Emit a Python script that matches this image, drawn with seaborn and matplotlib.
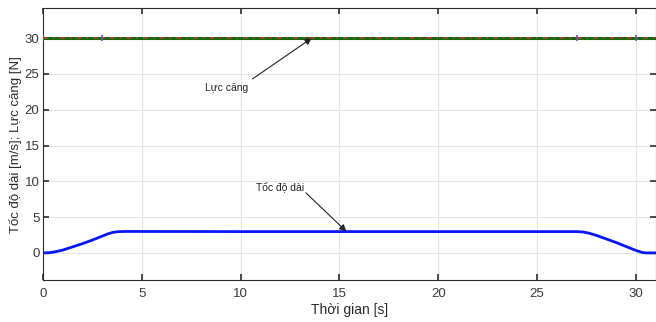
import numpy as np
import pandas as pd
import matplotlib
matplotlib.use("Agg")
import matplotlib.pyplot as plt
import seaborn as sns

# Data
t_speed = [0, 0.3, 0.6, 1.0, 1.5, 2.0, 2.5, 3.0, 3.3, 3.55, 3.8, 4.2, 10, 15, 20, 25, 27.0,
           27.3, 27.6, 28.0, 28.5, 29.0, 29.5, 30.0, 30.3, 30.5, 31.0]
v_speed = [0, 0.03, 0.15, 0.4, 0.85, 1.3, 1.8, 2.35, 2.68, 2.88, 2.97, 3.0, 2.98, 2.98, 2.98, 2.98, 2.98,
           2.93, 2.78, 2.45, 1.95, 1.45, 0.9, 0.35, 0.08, 0.0, 0.0]
t_tension = [0, 5, 10, 15, 20, 25, 30, 31]
f_tension = [30, 30, 30, 30, 30, 30, 30, 30]
t_marks = [0, 3, 27, 30]
f_marks = [30, 30, 30, 30]

x_ticks = [0, 5, 10, 15, 20, 25, 30]
y_ticks = [0, 5, 10, 15, 20, 25, 30]

sns.set_theme(style="white")
plt.rcParams['font.family'] = ['Liberation Sans', 'DejaVu Sans']

fig = plt.figure(figsize=(6.56, 3.22), dpi=100)
ax = fig.add_axes([0.0655, 0.130, 0.934, 0.845])

df_v = pd.DataFrame({"t": t_speed, "v": v_speed})
df_f = pd.DataFrame({"t": t_tension, "f": f_tension})
df_m = pd.DataFrame({"t": t_marks, "f": f_marks})

sns.lineplot(data=df_f, x="t", y="f", ax=ax, color="#0f6a0f", linewidth=2.2, zorder=3)
sns.lineplot(data=df_f, x="t", y="f", ax=ax, color="#ff2a2a", linewidth=1.2,
             linestyle=(0, (3, 3, 1, 3)), zorder=4, alpha=0.75)
sns.scatterplot(data=df_m, x="t", y="f", ax=ax, color="#8a3fd0", marker="|", s=25,
                linewidth=1.2, zorder=5)
sns.lineplot(data=df_v, x="t", y="v", ax=ax, color="#0a14ff", linewidth=2.0, zorder=3)

ax.set_xlim(0, 31)
ax.set_ylim(-3.8, 34.2)
ax.set_xticks(x_ticks)
ax.set_yticks(y_ticks)
ax.grid(True, color="#e4e4e4", linewidth=0.8)
ax.tick_params(axis="both", direction="in", length=4, labelsize=9.5, colors="#333333",
               labelcolor="#3a3a3a", top=True, right=True, bottom=True, left=True)
ax.tick_params(axis="x", pad=6)
ax.tick_params(axis="y", pad=2.5)
for sp in ax.spines.values():
    sp.set_color("#2a2a2a")
    sp.set_linewidth(0.8)
ax.set_xlabel("Thời gian [s]", fontsize=10, color="#2a2a2a", labelpad=2)
ax.set_ylabel("Tốc độ dài [m/s]; Lực căng [N]", fontsize=9.5, color="#2a2a2a")
ax.yaxis.set_label_coords(-0.035, 0.5)

arrow_kw = dict(arrowstyle="-|>", color="#222222", lw=0.8, shrinkA=0, shrinkB=0,
                mutation_scale=10)
ax.text(8.2, 23.0, "Lực căng", fontsize=7.5, color="#222222", ha="left", va="center")
ax.annotate("", xy=(13.6, 30), xytext=(10.6, 24.3), arrowprops=arrow_kw)
ax.text(10.8, 9.3, "Tốc độ dài", fontsize=7.5, color="#222222", ha="left", va="center")
ax.annotate("", xy=(15.35, 3.0), xytext=(13.3, 8.4), arrowprops=arrow_kw)

fig.savefig("out.png", dpi=100)
